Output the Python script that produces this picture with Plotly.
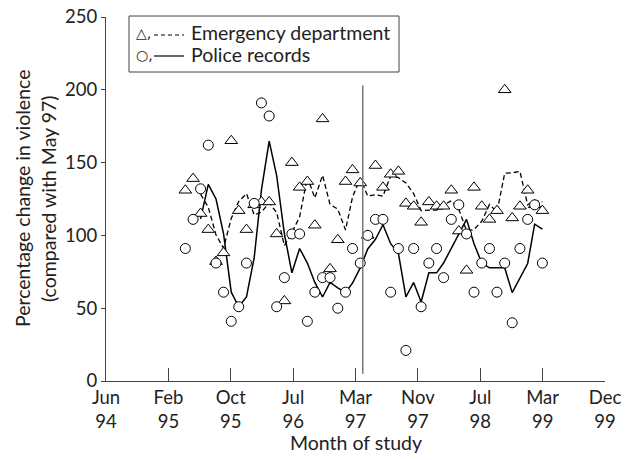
import plotly.graph_objects as go
import pandas as pd

# ---- data ----
months = pd.date_range("1995-05-01", periods=48, freq="MS")
ed_points = [131, 139, 115, 104, 82, 88, 165, 117, 104, 121, 123, 123, 101, 55, 150, 133,
             137, 107, 180, 77, 97, 137, 145, 136, 100, 148, 133, 142, 144, 122, 120, 109,
             123, 120, 120, 131, 103, 76, 133, 120, 111, 117, 200, 112, 120, 131, 121, 117]
police_points = [91, 111, 132, 162, 81, 61, 41, 51, 81, 122, 191, 182, 51, 71, 101, 101,
                 41, 61, 71, 71, 50, 61, 91, 81, 100, 111, 111, 61, 91, 21, 91, 51,
                 81, 91, 71, 111, 121, 101, 61, 81, 91, 61, 81, 40, 91, 111, 121, 81]
ed_trend = [128.3, 119.3, 100.3, 91.3, 111.7, 123.3, 128.7, 114, 116, 122.3, 115.7, 93,
            102, 112.7, 140, 125.7, 141.3, 121.3, 118, 103.7, 126.3, 139.3, 127, 128,
            127, 141, 139.7, 136, 128.7, 117, 117.3, 117.3, 121, 123.7, 118, 103.3,
            104, 109.7, 121.3, 116, 142.7, 143, 144, 121, 124, 123]
police_trend = [111.3, 135, 125, 101.3, 61, 51, 57.7, 84.7, 131.3, 164.7, 141, 101,
                74.3, 91, 81, 67.7, 57.7, 67.7, 64, 60.7, 67.3, 77.7, 90.7, 97.3,
                107.3, 94.3, 87.7, 57.7, 67.7, 54.3, 74.3, 74.3, 81, 91, 101, 111,
                94.3, 81, 77.7, 77.7, 77.7, 60.7, 70.7, 80.7, 107.7, 104.3]
trend_months = months[2:]
tick_dates = pd.date_range("1994-06-17", periods=9, freq="250D")
tick_labels = ["Jun<br>94", "Feb<br>95", "Oct<br>95", "Jul<br>96", "Mar<br>97",
               "Nov<br>97", "Jul<br>98", "Mar<br>99", "Dec<br>99"]
y_ticks = [0, 50, 100, 150, 200, 250]
intervention_date = "1997-04-11"

FONT = "Lato"
INK = "#222222"
AX = "#444444"
FS = 19.5

fig = go.Figure()
fig.add_trace(go.Scatter(x=trend_months, y=ed_trend, mode="lines",
                         line=dict(color="black", width=1.3, dash="5px,3px"),
                         showlegend=False, hoverinfo="skip"))
fig.add_trace(go.Scatter(x=trend_months, y=police_trend, mode="lines",
                         line=dict(color="black", width=1.5),
                         showlegend=False, hoverinfo="skip"))
fig.add_trace(go.Scatter(x=months, y=ed_points, mode="markers",
                         marker=dict(symbol="triangle-up", size=11, color="white",
                                     line=dict(color="black", width=1)),
                         showlegend=False))
fig.add_trace(go.Scatter(x=months, y=police_points, mode="markers",
                         marker=dict(symbol="circle", size=10, color="white",
                                     line=dict(color="black", width=1)),
                         showlegend=False))

# intervention line
fig.add_shape(type="line", xref="x", yref="y", x0=intervention_date, x1=intervention_date,
              y0=5, y1=203, line=dict(color="#777777", width=1.5))

# plot area in page pixels: x 106..605, y 17..381
W, H = 499, 364
def px(X):
    return (X - 106) / W
def py(Y):
    return (381 - Y) / H

fig.add_shape(type="rect", xref="paper", yref="paper", x0=px(129), x1=px(399),
              y0=py(72), y1=py(16), line=dict(color=AX, width=1), fillcolor="white", layer="above")
fig.add_shape(type="line", xref="paper", yref="paper", x0=px(154), x1=px(184),
              y0=py(35), y1=py(35), line=dict(color="black", width=1, dash="4px,3px"), layer="above")
fig.add_shape(type="line", xref="paper", yref="paper", x0=px(154), x1=px(184),
              y0=py(56), y1=py(56), line=dict(color="black", width=1.2), layer="above")

ann = []
ann.append(dict(text="△,", x=px(134), y=py(33), xref="paper", yref="paper",
                xanchor="left", yanchor="middle", showarrow=False,
                font=dict(family="DejaVu Sans", size=14, color=INK)))
ann.append(dict(text="○,", x=px(134), y=py(55), xref="paper", yref="paper",
                xanchor="left", yanchor="middle", showarrow=False,
                font=dict(family="DejaVu Sans", size=14, color=INK)))
ann.append(dict(text="Emergency department", x=px(189), y=py(33), xref="paper", yref="paper",
                xanchor="left", yanchor="middle", showarrow=False,
                font=dict(family=FONT, size=FS, color=INK)))
ann.append(dict(text="Police records", x=px(189), y=py(55), xref="paper", yref="paper",
                xanchor="left", yanchor="middle", showarrow=False,
                font=dict(family=FONT, size=FS, color=INK)))
ann.append(dict(text="Percentage change in violence", x=px(22), y=0.5, xref="paper", yref="paper",
                xanchor="center", yanchor="middle", textangle=-90, showarrow=False,
                font=dict(family=FONT, size=FS, color=INK)))
ann.append(dict(text="(compared with May 97)", x=px(48), y=0.5, xref="paper", yref="paper",
                xanchor="center", yanchor="middle", textangle=-90, showarrow=False,
                font=dict(family=FONT, size=FS, color=INK)))
ann.append(dict(text="Month of study", x=0.5, y=py(442), xref="paper", yref="paper",
                xanchor="center", yanchor="middle", showarrow=False,
                font=dict(family=FONT, size=FS, color=INK)))

fig.update_layout(
    template="none",
    width=627, height=460,
    margin=dict(l=106, r=22, t=17, b=79, autoexpand=False),
    paper_bgcolor="white", plot_bgcolor="white",
    font=dict(family=FONT, size=18.5, color=INK),
    annotations=ann,
    xaxis=dict(type="date", range=[tick_dates[0], tick_dates[-1]],
               tickvals=list(tick_dates), ticktext=tick_labels, automargin=False,
               showline=True, linecolor=AX, linewidth=1,
               ticks="inside", ticklen=13, tickcolor=AX, tickwidth=1,
               ticklabelstandoff=0,
               showgrid=False, zeroline=False, tickfont=dict(size=18.5)),
    yaxis=dict(range=[0, 250], tickvals=y_ticks, automargin=False,
               showline=True, linecolor=AX, linewidth=1,
               ticks="outside", ticklen=4, tickcolor=AX,
               showgrid=False, zeroline=False, tickfont=dict(size=18.5)),
)

fig.write_html("out.html",
               config={"displayModeBar": False},
               post_script="document.body.style.margin='0';document.body.style.overflow='hidden';")
